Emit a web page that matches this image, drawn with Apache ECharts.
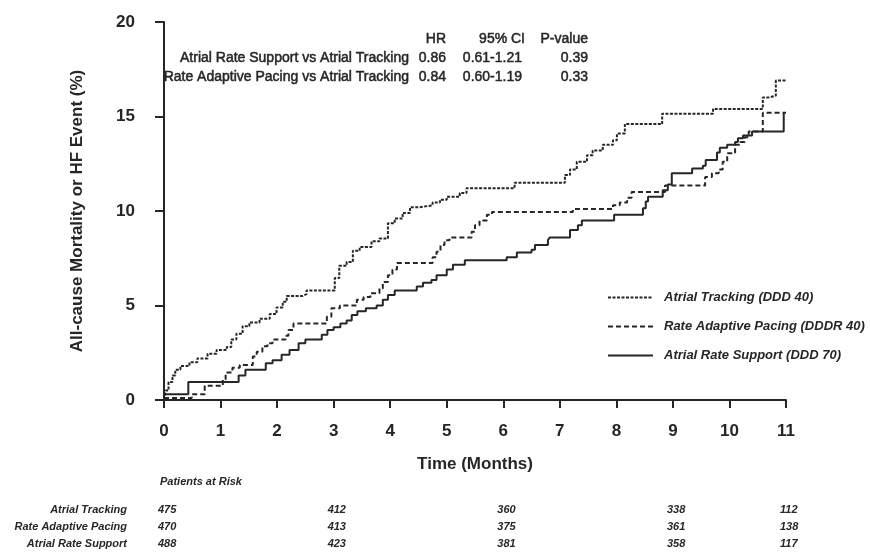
<!DOCTYPE html>
<html><head><meta charset="utf-8">
<script src="https://cdn.jsdelivr.net/npm/echarts@6/dist/echarts.min.js"></script>
<style>html,body{margin:0;padding:0;background:#fff}#c{width:870px;height:554px}</style>
</head><body><div id="c"></div>
<script>
// ---- Data ----
const seriesNames = ['Atrial Tracking (DDD 40)', 'Rate Adaptive Pacing (DDDR 40)', 'Atrial Rate Support (DDD 70)'];

const trackingT = [0, 0.03, 0.08, 0.15, 0.2, 0.29, 0.45, 0.59, 0.77, 0.93, 1.11, 1.19, 1.28, 1.39, 1.51, 1.69, 1.87, 1.99, 2.1, 2.17, 2.45, 2.52, 3.02, 3.1, 3.23, 3.34, 3.46, 3.67, 3.81, 3.96, 4.08, 4.22, 4.35, 4.52, 4.75, 4.88, 5.0, 5.23, 5.35, 6.2, 7.09, 7.18, 7.3, 7.48, 7.58, 7.76, 7.94, 8.01, 8.15, 8.81, 9.71, 10.59, 10.68, 10.82, 11.0];
const trackingV = [0, 0.5, 0.95, 1.3, 1.6, 1.8, 2.0, 2.2, 2.45, 2.65, 2.8, 3.2, 3.5, 3.9, 4.1, 4.3, 4.55, 4.9, 5.2, 5.5, 5.6, 5.8, 6.45, 7.1, 7.3, 7.9, 8.1, 8.4, 8.55, 9.35, 9.6, 9.9, 10.2, 10.3, 10.45, 10.6, 10.75, 10.95, 11.2, 11.5, 11.9, 12.2, 12.6, 12.95, 13.2, 13.5, 13.75, 14.1, 14.6, 15.15, 15.4, 16.0, 16.1, 16.9, 16.9];

const adaptiveT = [0, 0.49, 0.72, 1.04, 1.09, 1.21, 1.34, 1.57, 1.64, 1.74, 1.83, 1.92, 2.15, 2.2, 2.29, 2.88, 2.96, 3.11, 3.41, 3.53, 3.65, 3.81, 3.87, 3.96, 4.04, 4.12, 4.75, 4.82, 4.89, 4.96, 5.05, 5.44, 5.5, 5.58, 5.71, 5.8, 7.23, 7.94, 8.06, 8.19, 8.27, 8.86, 9.57, 9.69, 9.81, 9.88, 9.96, 10.1, 10.19, 10.27, 10.34, 10.59, 11.0];
const adaptiveV = [0.1, 0.3, 0.75, 1.1, 1.45, 1.7, 1.85, 2.3, 2.55, 2.85, 3.0, 3.2, 3.4, 3.7, 4.05, 4.4, 4.85, 5.0, 5.3, 5.45, 5.65, 5.9, 6.25, 6.6, 6.9, 7.25, 7.55, 7.85, 8.2, 8.45, 8.6, 8.9, 9.25, 9.5, 9.8, 9.95, 10.1, 10.3, 10.45, 10.7, 11.0, 11.35, 11.8, 12.0, 12.2, 12.6, 13.05, 13.5, 13.65, 13.9, 14.2, 15.2, 15.2];

const supportT = [0, 0.43, 1.32, 1.44, 1.8, 1.92, 2.08, 2.22, 2.38, 2.5, 2.79, 2.89, 3.0, 3.12, 3.23, 3.32, 3.42, 3.57, 3.76, 3.87, 3.96, 4.08, 4.47, 4.58, 4.73, 4.82, 5.0, 5.11, 5.32, 6.06, 6.24, 6.5, 6.56, 6.79, 6.82, 7.18, 7.32, 7.39, 7.96, 8.47, 8.52, 8.56, 8.82, 8.91, 8.98, 9.34, 9.53, 9.58, 9.78, 9.83, 9.96, 10.1, 10.15, 10.24, 10.4, 10.96];
const supportV = [0.3, 0.95, 1.3, 1.6, 1.95, 2.1, 2.4, 2.65, 3.0, 3.2, 3.45, 3.7, 3.85, 4.05, 4.2, 4.5, 4.7, 4.85, 5.0, 5.3, 5.55, 5.8, 6.0, 6.2, 6.35, 6.6, 6.9, 7.15, 7.4, 7.55, 7.8, 7.95, 8.2, 8.45, 8.6, 9.0, 9.25, 9.5, 9.8, 10.15, 10.5, 10.75, 11.1, 11.4, 12.0, 12.25, 12.4, 12.7, 13.1, 13.35, 13.5, 13.65, 13.85, 14.0, 14.2, 15.2];

const hrHeader = ['HR', '95% CI', 'P-value'];
const hrRowLabels = ['Atrial Rate Support vs Atrial Tracking', 'Rate Adaptive Pacing vs Atrial Tracking'];
const hrValues = ['0.86', '0.84'];
const ciValues = ['0.61-1.21', '0.60-1.19'];
const pValues = ['0.39', '0.33'];

const riskTitle = 'Patients at Risk';
const riskMonths = [0, 3, 6, 9, 11];
const riskLabels = ['Atrial Tracking', 'Rate Adaptive Pacing', 'Atrial Rate Support'];
const riskTracking = [475, 412, 360, 338, 112];
const riskAdaptive = [470, 413, 375, 361, 138];
const riskSupport = [488, 423, 381, 358, 117];

const xName = 'Time (Months)';
const yName = 'All-cause Mortality or HF Event (%)';

// ---- Chart ----
const FONT = "'Liberation Sans', Arial, Helvetica, sans-serif";
const INK = '#262626';
const pair = (t, v) => t.map((x, i) => [x, v[i]]);

const chart = echarts.init(document.getElementById('c'), null, {renderer: 'canvas'});

const lineBase = {type: 'line', step: 'end', symbol: 'none', showSymbol: false, animation: false, silent: true};

const option = {
  backgroundColor: '#fff',
  animation: false,
  grid: {left: 164, right: 84, top: 22, bottom: 154},
  xAxis: {
    type: 'value', min: 0, max: 11, interval: 1, offset: 3,
    axisLine: {show: true, lineStyle: {color: INK, width: 2}},
    axisTick: {show: true, length: 8, lineStyle: {color: INK, width: 2}},
    axisLabel: {color: INK, fontSize: 17, fontWeight: 'bold', fontFamily: FONT, margin: 20},
    splitLine: {show: false},
    name: xName, nameLocation: 'middle', nameGap: 53,
    nameTextStyle: {color: INK, fontSize: 17, fontWeight: 'bold', fontFamily: FONT}
  },
  yAxis: {
    type: 'value', min: 0, max: 20, interval: 5, offset: 10,
    axisLine: {show: true, lineStyle: {color: INK, width: 2}},
    axisTick: {show: true, length: 9, lineStyle: {color: INK, width: 2}},
    axisLabel: {color: INK, fontSize: 17, fontWeight: 'bold', fontFamily: FONT, margin: 19},
    splitLine: {show: false},
    name: yName, nameLocation: 'middle', nameGap: 68, nameRotate: 90,
    nameTextStyle: {color: INK, fontSize: 17, fontWeight: 'bold', fontFamily: FONT}
  },
  legend: {
    show: true, orient: 'vertical', left: 607, top: 291, padding: 0,
    itemWidth: 45, itemHeight: 14, itemGap: 16,
    data: seriesNames,
    itemStyle: {color: 'rgba(0,0,0,0)', borderWidth: 0, opacity: 0},
    textStyle: {color: INK, fontSize: 13, fontWeight: 'bold', fontStyle: 'italic', fontFamily: FONT, padding: [0, 0, 0, 6]}
  },
  series: [
    Object.assign({}, lineBase, {name: seriesNames[0], data: pair(trackingT, trackingV),
      lineStyle: {color: INK, width: 2, type: [3, 1.5]}, itemStyle: {color: INK}}),
    Object.assign({}, lineBase, {name: seriesNames[1], data: pair(adaptiveT, adaptiveV),
      lineStyle: {color: INK, width: 2, type: [5, 3]}, itemStyle: {color: INK}}),
    Object.assign({}, lineBase, {name: seriesNames[2], data: pair(supportT, supportV),
      lineStyle: {color: INK, width: 2, type: 'solid'}, itemStyle: {color: INK}})
  ]
};
chart.setOption(option);

// ---- Text blocks (tables) ----
const g = [];
const txt = (x, y, s, align, style, strokeW) => g.push({
  type: 'text', x: x, y: y, silent: true,
  style: {text: s, fill: INK, font: style, align: align, verticalAlign: 'middle',
          stroke: strokeW ? INK : null, lineWidth: strokeW || 0}
});
const tblFont = "14px " + FONT;
// HR table
txt(446, 39, hrHeader[0], 'right', tblFont, 0.5);
txt(525, 39, hrHeader[1], 'right', tblFont, 0.5);
txt(588, 39, hrHeader[2], 'right', tblFont, 0.5);
hrRowLabels.forEach((lab, i) => {
  const y = 58 + i * 19;
  txt(409, y, lab, 'right', tblFont, 0.5);
  txt(446, y, hrValues[i], 'right', tblFont, 0.5);
  txt(522, y, ciValues[i], 'right', tblFont, 0.5);
  txt(588, y, pValues[i], 'right', tblFont, 0.5);
});
// Patients at risk
const riskFont = "italic bold 11px " + FONT;
txt(160, 482, riskTitle, 'left', riskFont, 0);
const riskRows = [riskTracking, riskAdaptive, riskSupport];
riskRows.forEach((row, r) => {
  const y = 510 + r * 17;
  txt(127, y, riskLabels[r], 'right', riskFont, 0);
  row.forEach((n, i) => {
    const px = chart.convertToPixel({xAxisIndex: 0}, riskMonths[i]);
    txt(px - 6, y, String(n), 'left', riskFont, 0);
  });
});
chart.setOption({graphic: g});
</script>
</body></html>
